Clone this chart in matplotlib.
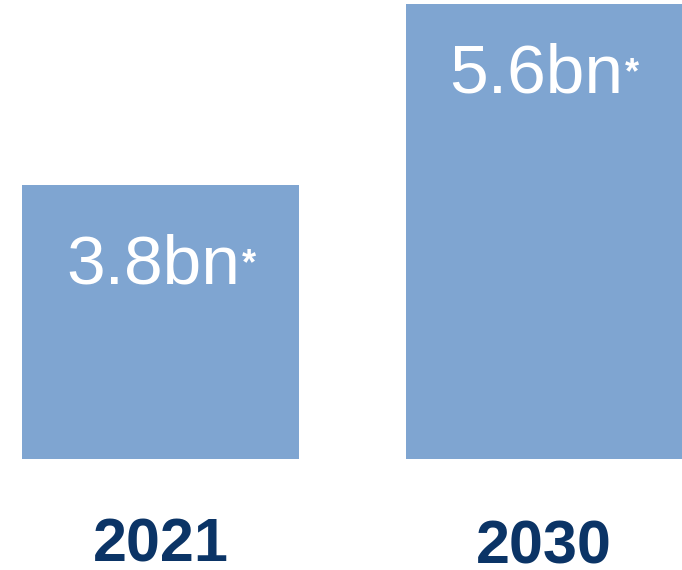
import matplotlib
matplotlib.use("Agg")
import matplotlib.pyplot as plt

# Chart data
years = ["2021", "2030"]
values = [3.8, 5.6]
value_labels = ["3.8bn", "5.6bn"]

BAR_COLOR = "#7fa5d1"
YEAR_COLOR = "#0b3466"

plt.rcParams["font.family"] = ["Liberation Sans", "DejaVu Sans"]

fig = plt.figure(figsize=(6.82, 5.70), dpi=100)
ax = fig.add_axes([0, (570 - 459) / 570, 1, 459 / 570])

x = list(range(len(years)))
bars = ax.bar(x, values, width=0.723, color=BAR_COLOR, linewidth=0)

ax.set_xlim(-0.420, 1.360)
ax.set_ylim(1.076, 1.076 + 459 / 100.6)
ax.axis("off")

# value labels inside bars, with a small raised asterisk
label_dy = [-99, -89]
for xi, v, lab, dy in zip(x, values, value_labels, label_dy):
    t = ax.annotate(lab, xy=(xi, v), xytext=(-8, dy), textcoords="offset pixels",
                    ha="center", va="baseline", color="white",
                    fontsize=50)
    ax.annotate("*", xy=(1, 0), xycoords=t, xytext=(2, 24),
                textcoords="offset pixels", ha="left", va="baseline",
                color="white", fontsize=26, fontweight="bold")

# year labels under bars
year_dy = [-102, -104]
for xi, yr, dy in zip(x, years, year_dy):
    ax.annotate(yr, xy=(xi, 0), xycoords=("data", "axes fraction"),
                xytext=(0, dy), textcoords="offset pixels",
                ha="center", va="baseline", color=YEAR_COLOR,
                fontsize=44, fontweight="bold", annotation_clip=False)

fig.savefig("out.png", dpi=100)
